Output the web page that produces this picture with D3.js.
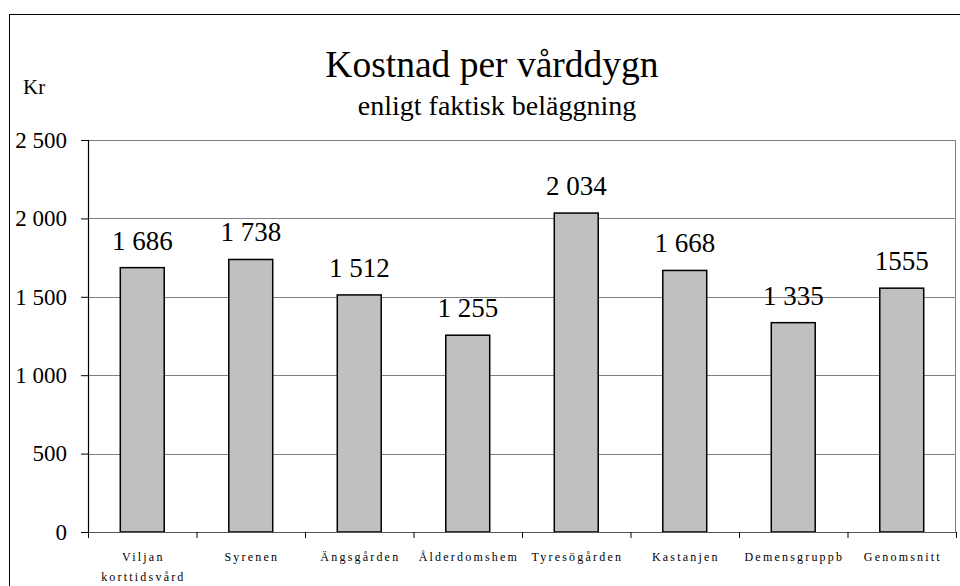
<!DOCTYPE html>
<html>
<head>
<meta charset="utf-8">
<script src="https://cdn.jsdelivr.net/npm/d3@7"></script>
<style>
  body { margin: 0; background: #fff; }
</style>
</head>
<body>
<div id="viz"></div>
<script>
// categories and values
var categories = ["Viljan korttidsvård", "Syrenen", "Ängsgården", "Ålderdomshem",
                  "Tyresögården", "Kastanjen", "Demensgruppb", "Genomsnitt"];
var values = [1686, 1738, 1512, 1255, 2034, 1668, 1335, 1555];
var valueLabels = ["1 686", "1 738", "1 512", "1 255", "2 034", "1 668", "1 335", "1555"];
var yTicks = [0, 500, 1000, 1500, 2000, 2500];
var yTickLabels = ["0", "500", "1 000", "1 500", "2 000", "2 500"];

var FONT = "'Liberation Serif', 'Times New Roman', serif";
var W = 960, H = 586;
var margin = {top: 140, right: 4, bottom: 54, left: 88};
var width = W - margin.left - margin.right,
    height = H - margin.top - margin.bottom;

var svg = d3.select("#viz").append("svg")
    .attr("width", W)
    .attr("height", H)
    .style("font-family", FONT);

// outer frame
svg.append("rect")
    .attr("x", 9.5).attr("y", 14.5)
    .attr("width", W).attr("height", H)
    .attr("fill", "none")
    .attr("stroke", "#000")
    .attr("stroke-width", 1);

// titles
svg.append("text")
    .attr("x", 492).attr("y", 77)
    .attr("text-anchor", "middle")
    .style("font-family", FONT)
    .style("font-size", "37.5px")
    .text("Kostnad per vårddygn");
svg.append("text")
    .attr("x", 497).attr("y", 115)
    .attr("text-anchor", "middle")
    .style("font-family", FONT)
    .style("font-size", "28px")
    .text("enligt faktisk beläggning");
svg.append("text")
    .attr("x", 23).attr("y", 94)
    .style("font-family", FONT)
    .style("font-size", "21px")
    .text("Kr");

var g = svg.append("g")
    .attr("transform", "translate(" + margin.left + "," + margin.top + ")");

var xScale = d3.scaleBand()
    .domain(categories)
    .range([0, width]);
var yScale = d3.scaleLinear()
    .domain([0, 2500])
    .range([height, 0]);

// gridlines
g.selectAll(".grid")
    .data(yTicks.filter(function(d) { return d > 0; }))
    .enter().append("line")
    .attr("class", "grid")
    .attr("x1", 0).attr("x2", width)
    .attr("y1", function(d) { return Math.round(yScale(d)) + 0.5; })
    .attr("y2", function(d) { return Math.round(yScale(d)) + 0.5; })
    .attr("stroke", "#808080")
    .attr("stroke-width", 1);

// right border of plot
g.append("line")
    .attr("x1", width - 0.5).attr("x2", width - 0.5)
    .attr("y1", 0).attr("y2", height)
    .attr("stroke", "#808080");

// bars
var barW = xScale.bandwidth() * 0.405;
g.selectAll(".bar")
    .data(values)
    .enter().append("rect")
    .attr("class", "bar")
    .attr("x", function(d, i) { return xScale(categories[i]) + xScale.bandwidth() / 2 - barW / 2; })
    .attr("y", function(d) { return yScale(d); })
    .attr("width", barW)
    .attr("height", function(d) { return height - yScale(d); })
    .attr("fill", "#c0c0c0")
    .attr("stroke", "#000")
    .attr("stroke-width", 1.5);

// value labels
g.selectAll(".vlabel")
    .data(values)
    .enter().append("text")
    .attr("class", "vlabel")
    .attr("x", function(d, i) { return xScale(categories[i]) + xScale.bandwidth() / 2; })
    .attr("y", function(d) { return yScale(d) - 18; })
    .attr("text-anchor", "middle")
    .style("font-family", FONT)
    .style("font-size", "27px")
    .text(function(d, i) { return valueLabels[i]; });

// y axis
var yAxis = d3.axisLeft(yScale)
    .tickValues(yTicks)
    .tickSize(7)
    .tickFormat(function(d, i) { return yTickLabels[i]; });
var svgY = g.append("g").call(yAxis).attr("font-family", null);
svgY.select(".domain").attr("stroke", "#000").attr("stroke-width", 1.2);
svgY.selectAll(".tick line").attr("stroke", "#000");
svgY.selectAll(".tick text")
    .attr("x", -21)
    .style("font-size", "23px")
    .style("font-family", FONT);

// x axis
var xAxis = d3.axisBottom(xScale).tickSize(0).tickFormat("");
var svgX = g.append("g")
    .attr("transform", "translate(0," + height + ")")
    .call(xAxis);
svgX.select(".domain").attr("stroke", "#555").attr("stroke-width", 1.2);

// x ticks at band edges
g.selectAll(".xtick")
    .data(categories.concat([null]))
    .enter().append("line")
    .attr("class", "xtick")
    .attr("x1", function(d, i) { return i * xScale.step() + 0.5; })
    .attr("x2", function(d, i) { return i * xScale.step() + 0.5; })
    .attr("y1", height).attr("y2", height + 6)
    .attr("stroke", "#000");

// category labels (may wrap to two lines)
var xl = g.selectAll(".xlabel")
    .data(categories)
    .enter().append("text")
    .attr("class", "xlabel")
    .attr("text-anchor", "middle")
    .style("font-family", FONT)
    .style("font-size", "12px")
    .style("letter-spacing", "2.2px")
    .attr("transform", function(d) {
        return "translate(" + (xScale(d) + xScale.bandwidth() / 2 + 1.1) + "," + (height + 29) + ")";
    });
xl.each(function(d) {
    var parts = d === "Viljan korttidsvård" ? ["Viljan", "korttidsvård"] : [d];
    var t = d3.select(this);
    parts.forEach(function(p, k) {
        t.append("tspan").attr("x", 0).attr("dy", k === 0 ? 0 : 20).text(p);
    });
});
</script>
</body>
</html>
